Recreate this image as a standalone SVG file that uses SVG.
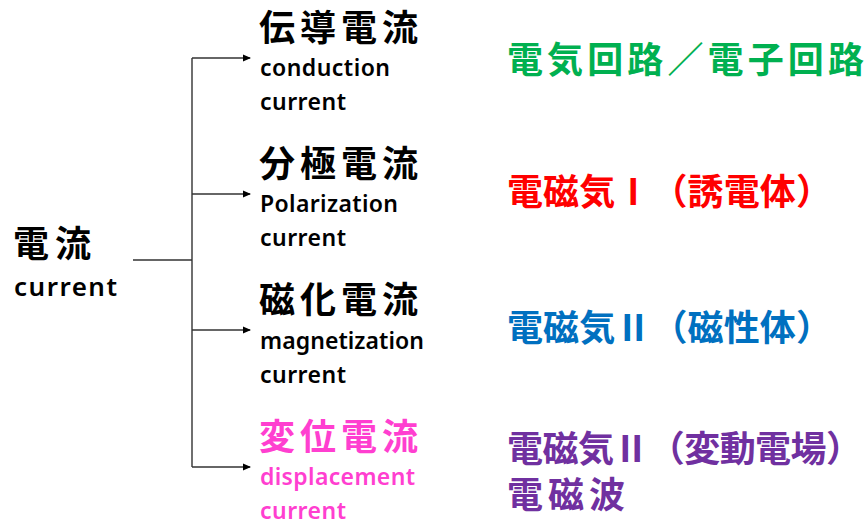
<svg xmlns="http://www.w3.org/2000/svg" width="865" height="525" viewBox="0 0 865 525">
<style>
.jp{font-family:"Noto Sans CJK JP","Noto Sans CJK SC",sans-serif;font-weight:bold;}
.en{font-family:"Noto Sans","Liberation Sans",sans-serif;font-weight:600;}
.big{font-size:36px;}
.sub{font-size:23px;}
.conn{stroke:#333;stroke-width:1.4;fill:none;}
.arr{stroke:#333;stroke-width:1.4;fill:none;marker-end:url(#ah);}
</style>
<defs>
<marker id="ah" markerWidth="8" markerHeight="8" refX="7" refY="4" orient="auto" markerUnits="userSpaceOnUse">
<path d="M0,0.5 L8,4 L0,7.5 Z" fill="#000"/>
</marker>
</defs>
<rect width="865" height="525" fill="#fff"/>
<g id="connectors">
<path class="conn" d="M133,260 H192 M192,58 V467"/>
<path class="arr" d="M192,58 H250"/>
<path class="arr" d="M192,194 H250"/>
<path class="arr" d="M192,330 H250"/>
<path class="arr" d="M192,467 H250"/>
</g>
<g id="root">
<text class="jp big" x="13" y="257" textLength="78">電流</text>
<text class="en" x="14" y="296" font-size="26" textLength="103">current</text>
</g>
<g id="conduction">
<text class="jp big" x="259" y="41" textLength="159">伝導電流</text>
<text class="en sub" x="260" y="76" textLength="130">conduction</text>
<text class="en sub" x="260" y="110" textLength="86">current</text>
</g>
<g id="polarization">
<text class="jp big" x="259" y="177" textLength="159">分極電流</text>
<text class="en sub" x="260" y="212" textLength="138">Polarization</text>
<text class="en sub" x="260" y="246" textLength="86">current</text>
</g>
<g id="magnetization">
<text class="jp big" x="259" y="313" textLength="159">磁化電流</text>
<text class="en sub" x="260" y="349" textLength="164">magnetization</text>
<text class="en sub" x="260" y="383" textLength="86">current</text>
</g>
<g id="displacement" fill="#FF3FD0">
<text class="jp big" x="259" y="450" textLength="159">変位電流</text>
<text class="en sub" x="260" y="485" textLength="155">displacement</text>
<text class="en sub" x="260" y="519" textLength="86">current</text>
</g>
<g id="circuit" fill="#00B050">
<text class="jp big" x="507" y="73" textLength="357">電気回路／電子回路</text>
</g>
<g id="em1" fill="#FF0000">
<text class="jp big" x="507" y="205" textLength="325">電磁気Ⅰ（誘電体）</text>
</g>
<g id="em2" fill="#0070C0">
<text class="jp big" x="507" y="341" textLength="325">電磁気Ⅱ（磁性体）</text>
</g>
<g id="em3" fill="#7030A0">
<text class="jp big" x="507" y="462" textLength="355">電磁気Ⅱ（変動電場）</text>
<text class="jp big" x="507" y="508" textLength="118">電磁波</text>
</g>
</svg>
